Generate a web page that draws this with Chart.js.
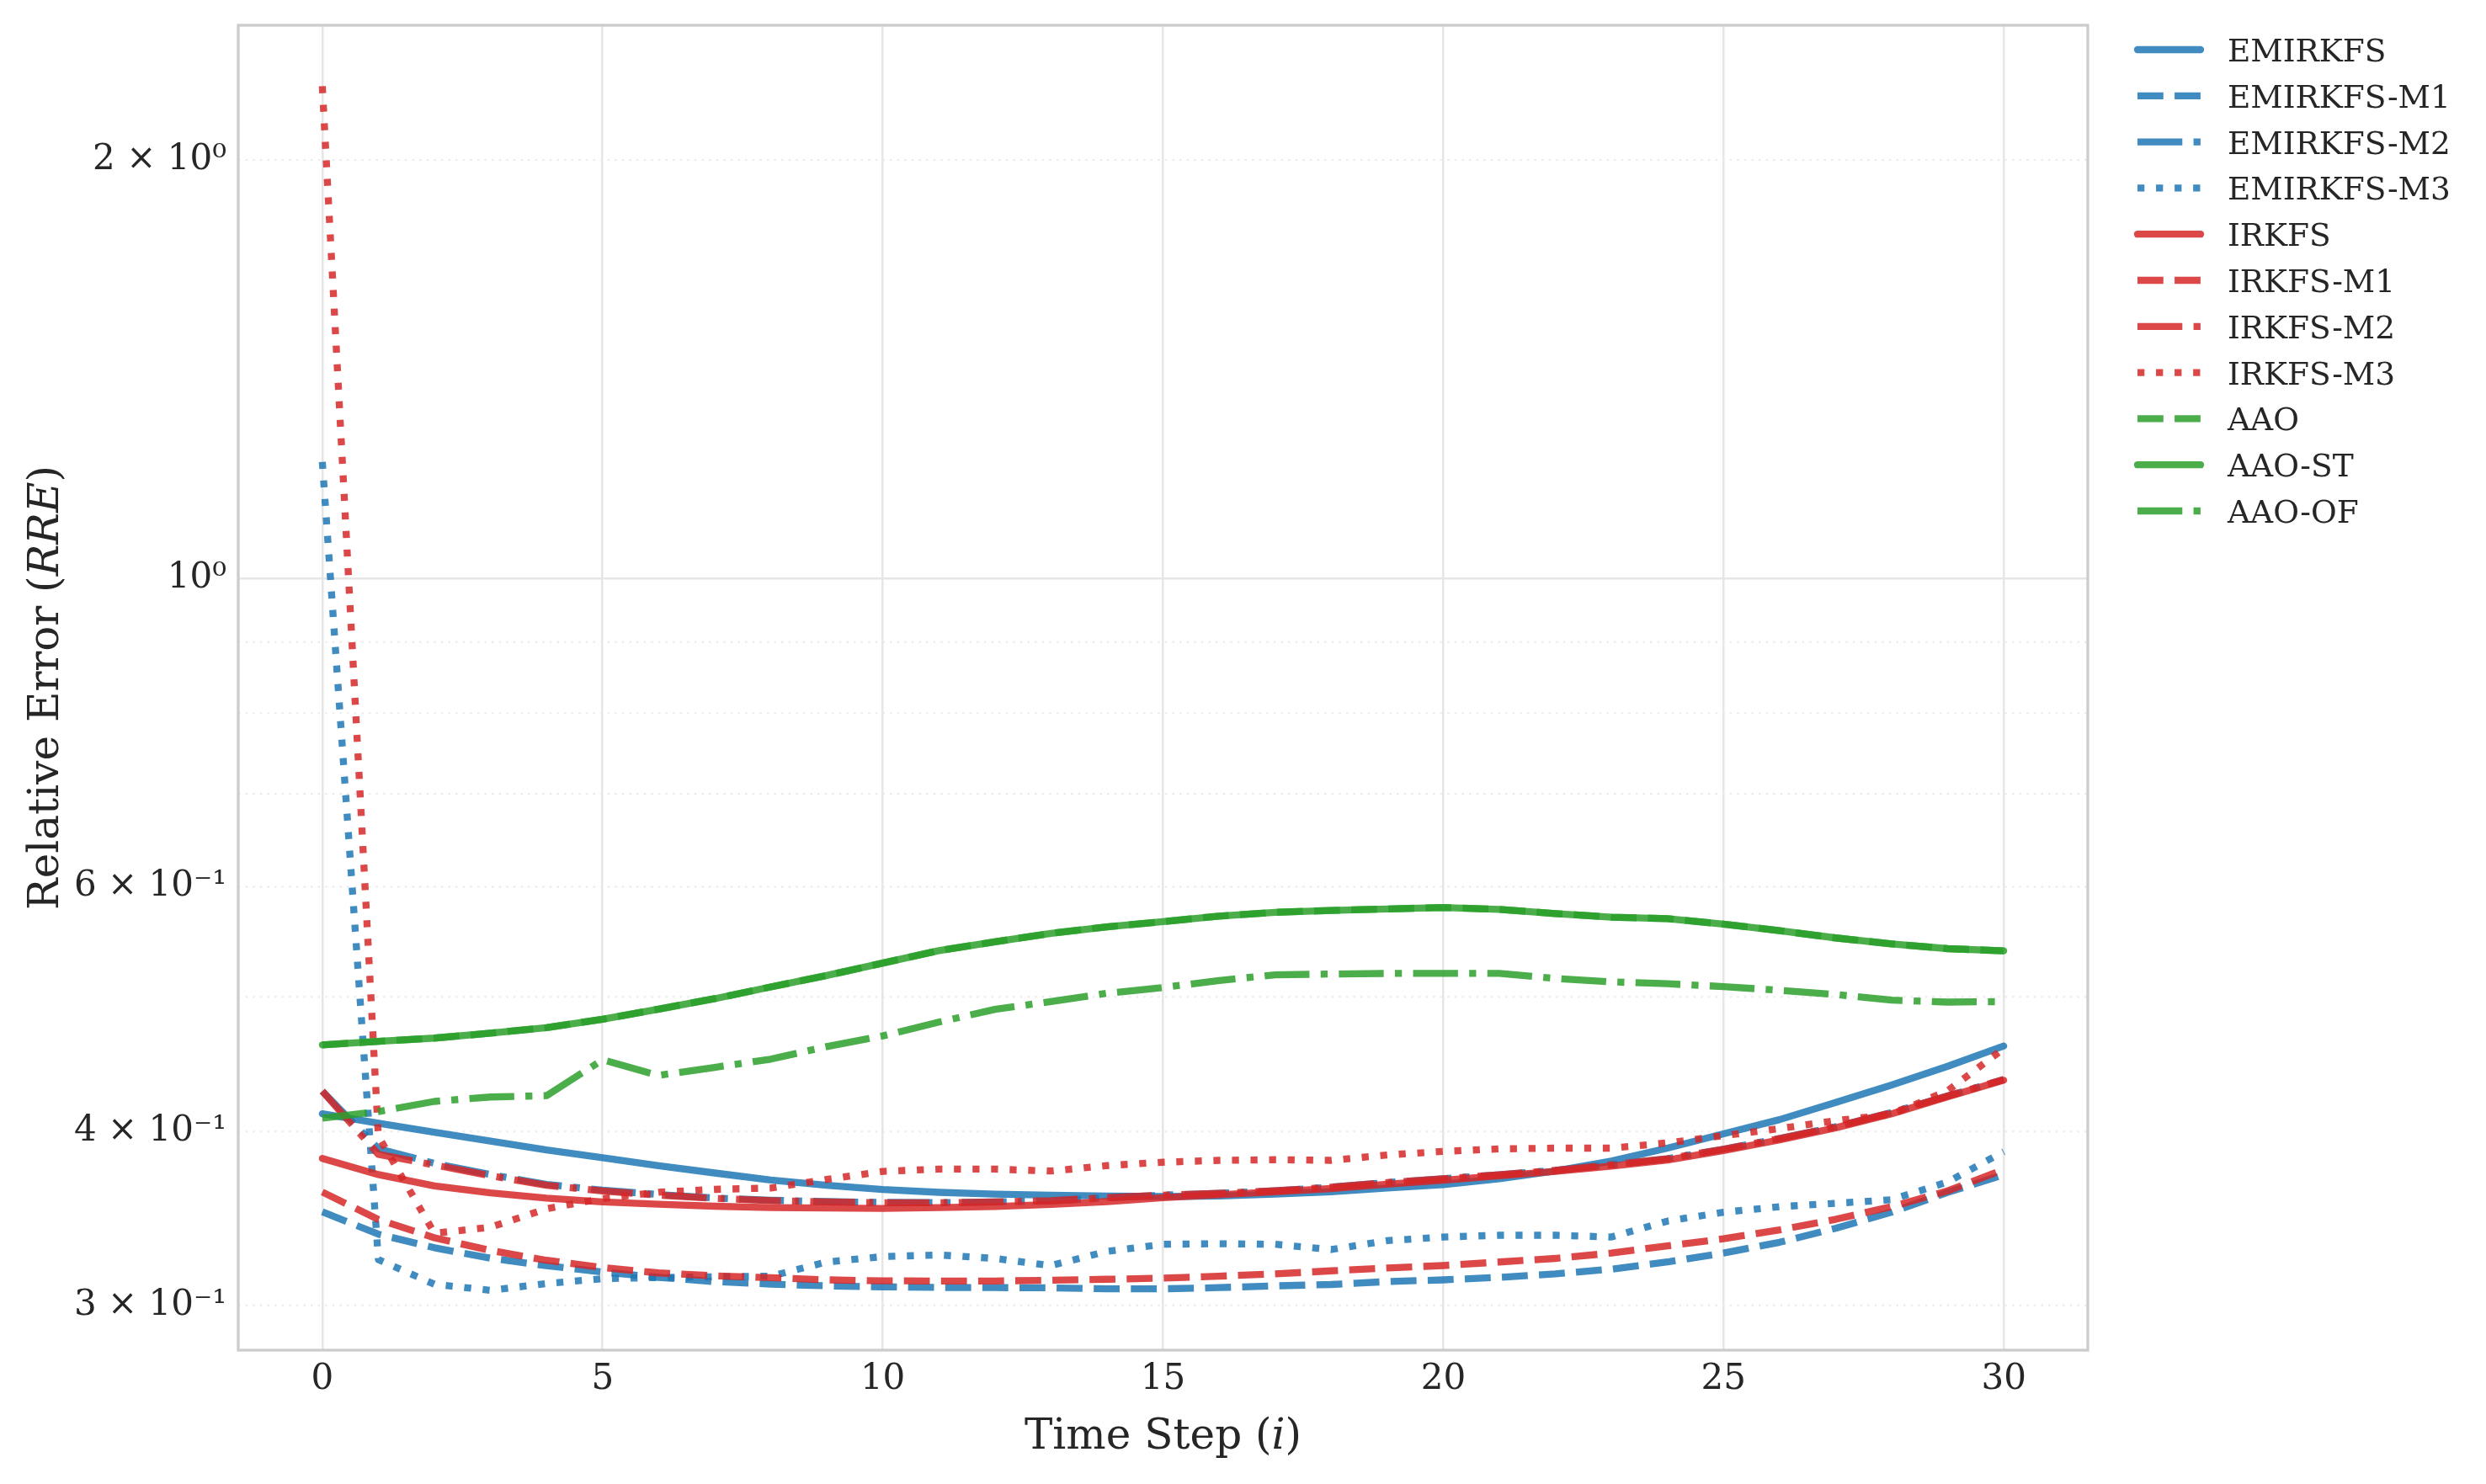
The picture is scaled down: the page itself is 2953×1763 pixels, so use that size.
<!DOCTYPE html>
<html>
<head>
<meta charset="utf-8">
<script src="https://cdn.jsdelivr.net/npm/chart.js@4.4.1/dist/chart.umd.min.js"></script>
<style>
  html, body { margin: 0; padding: 0; background: #fff; }
  #wrap { width: 2953px; height: 1763px; position: relative; }
</style>
</head>
<body>
<div id="wrap"><canvas id="c"></canvas></div>
<script>
// time steps
const steps = [0, 1, 2, 3, 4, 5, 6, 7, 8, 9, 10, 11, 12, 13, 14, 15, 16, 17, 18, 19, 20, 21, 22, 23, 24, 25, 26, 27, 28, 29, 30];

// relative error values
const emirkfs   = [0.412, 0.4056, 0.3996, 0.3938, 0.388, 0.3831, 0.378, 0.3735, 0.3692, 0.366, 0.3634, 0.3617, 0.3606, 0.36, 0.3595, 0.3592, 0.3595, 0.3606, 0.3621, 0.3643, 0.3664, 0.3699, 0.3747, 0.3809, 0.3892, 0.3985, 0.408, 0.4198, 0.4321, 0.4457, 0.4609];
const emirkfsM1 = [0.3502, 0.3375, 0.33, 0.3243, 0.3203, 0.317, 0.3142, 0.312, 0.3107, 0.3098, 0.3093, 0.309, 0.3089, 0.3088, 0.3083, 0.3083, 0.3089, 0.3098, 0.3105, 0.312, 0.3129, 0.3142, 0.316, 0.3185, 0.3223, 0.3271, 0.333, 0.3408, 0.35, 0.3617, 0.3724];
const emirkfsM2 = [0.4277, 0.3888, 0.3795, 0.3725, 0.3665, 0.363, 0.3604, 0.3583, 0.357, 0.3562, 0.3557, 0.3556, 0.356, 0.3567, 0.3585, 0.36, 0.3611, 0.3626, 0.3648, 0.3676, 0.3699, 0.3724, 0.3751, 0.3786, 0.3824, 0.3885, 0.3954, 0.4032, 0.4128, 0.4243, 0.436];
const emirkfsM3 = [1.213, 0.3236, 0.3106, 0.3075, 0.311, 0.3135, 0.3141, 0.3145, 0.3148, 0.3223, 0.3252, 0.3261, 0.3242, 0.3204, 0.328, 0.3319, 0.3322, 0.3319, 0.329, 0.3339, 0.3359, 0.3369, 0.3369, 0.3359, 0.3449, 0.35, 0.3532, 0.3552, 0.3573, 0.368, 0.3869];
const irkfs     = [0.3826, 0.3725, 0.3656, 0.3614, 0.3583, 0.356, 0.3547, 0.3535, 0.3527, 0.3524, 0.3522, 0.3527, 0.3533, 0.3545, 0.3562, 0.3585, 0.3603, 0.362, 0.364, 0.3666, 0.369, 0.3717, 0.3745, 0.3778, 0.3816, 0.3876, 0.3945, 0.4025, 0.412, 0.4237, 0.4355];
const irkfsM1   = [0.3619, 0.3458, 0.3355, 0.3285, 0.3232, 0.3194, 0.3165, 0.315, 0.314, 0.3129, 0.3124, 0.3123, 0.3123, 0.3127, 0.3132, 0.3138, 0.3148, 0.316, 0.3176, 0.3191, 0.3204, 0.3223, 0.3242, 0.3271, 0.331, 0.3349, 0.3399, 0.3459, 0.3532, 0.3626, 0.3757];
const irkfsM2   = [0.4277, 0.3852, 0.3785, 0.3718, 0.366, 0.3625, 0.36, 0.3581, 0.3568, 0.356, 0.3555, 0.3555, 0.356, 0.3567, 0.3585, 0.36, 0.3611, 0.3626, 0.3648, 0.3676, 0.3699, 0.3724, 0.3751, 0.3786, 0.3824, 0.3885, 0.3954, 0.4032, 0.4128, 0.4243, 0.436];
const irkfsM3   = [2.26, 0.397, 0.338, 0.3414, 0.352, 0.358, 0.3618, 0.3635, 0.3643, 0.3695, 0.3745, 0.3759, 0.3759, 0.3747, 0.3781, 0.3802, 0.3814, 0.3818, 0.3814, 0.3848, 0.3871, 0.3887, 0.3892, 0.3892, 0.3926, 0.3973, 0.402, 0.4073, 0.4116, 0.428, 0.459];
const aao       = [0.4618, 0.4645, 0.467, 0.4708, 0.4752, 0.4818, 0.49, 0.4985, 0.5083, 0.518, 0.5288, 0.5398, 0.5478, 0.5555, 0.5615, 0.5664, 0.5716, 0.5752, 0.577, 0.5784, 0.5798, 0.578, 0.574, 0.5706, 0.5692, 0.564, 0.558, 0.5513, 0.5459, 0.5416, 0.5396];
const aaoST     = [0.4618, 0.4645, 0.467, 0.4708, 0.4752, 0.4818, 0.49, 0.4985, 0.5083, 0.518, 0.5288, 0.5398, 0.5478, 0.5555, 0.5615, 0.5664, 0.5716, 0.5752, 0.577, 0.5784, 0.5798, 0.578, 0.574, 0.5706, 0.5692, 0.564, 0.558, 0.5513, 0.5459, 0.5416, 0.5396];
const aaoOF     = [0.409, 0.4135, 0.4205, 0.4236, 0.4245, 0.4505, 0.439, 0.4449, 0.451, 0.4605, 0.4687, 0.4795, 0.4898, 0.4961, 0.503, 0.5078, 0.5138, 0.5186, 0.5193, 0.5198, 0.5198, 0.5198, 0.5155, 0.5126, 0.511, 0.5086, 0.5055, 0.502, 0.4973, 0.4957, 0.4961];

// axis ticks
const xTicks = [0, 5, 10, 15, 20, 25, 30];
const yTickValues = [0.3, 0.4, 0.6, 1, 2];
const yTickLabels = ['3 × 10⁻¹', '4 × 10⁻¹', '6 × 10⁻¹', '10⁰', '2 × 10⁰'];
const yMinorGrid = [0.3, 0.4, 0.5, 0.6, 0.7, 0.8, 0.9, 2];

// styles
const BLUE = 'rgba(31,119,180,0.85)';
const RED = 'rgba(214,39,40,0.85)';
const GREEN = 'rgba(44,160,44,0.85)';
const LW = 8.33;
const SOLID = [];
const DASHED = [30.8, 13.3];
const DASHDOT = [53.3, 13.3, 8.3, 13.3];
const DOTTED = [8.3, 13.75];
const FONT = '"DejaVu Serif", serif';
const TEXT = '#262626';

const series = [
    {label: 'EMIRKFS', data: emirkfs, color: BLUE, dash: SOLID},
    {label: 'EMIRKFS-M1', data: emirkfsM1, color: BLUE, dash: DASHED},
    {label: 'EMIRKFS-M2', data: emirkfsM2, color: BLUE, dash: DASHDOT},
    {label: 'EMIRKFS-M3', data: emirkfsM3, color: BLUE, dash: DOTTED},
    {label: 'IRKFS', data: irkfs, color: RED, dash: SOLID},
    {label: 'IRKFS-M1', data: irkfsM1, color: RED, dash: DASHED},
    {label: 'IRKFS-M2', data: irkfsM2, color: RED, dash: DASHDOT},
    {label: 'IRKFS-M3', data: irkfsM3, color: RED, dash: DOTTED},
    {label: 'AAO', data: aao, color: GREEN, dash: DASHED},
    {label: 'AAO-ST', data: aaoST, color: GREEN, dash: SOLID},
    {label: 'AAO-OF', data: aaoOF, color: GREEN, dash: DASHDOT}
];

const datasets = series.map(function (s, i) {
    return {
        label: s.label,
        data: steps.map(function (x, k) { return {x: x, y: s.data[k]}; }),
        borderColor: s.color,
        backgroundColor: s.color,
        borderWidth: LW,
        borderDash: s.dash,
        borderCapStyle: s.dash.length ? 'butt' : 'round',
        borderJoinStyle: 'round',
        pointRadius: 0,
        tension: 0,
        fill: false,
        order: series.length - 1 - i   // later series on top, like matplotlib
    };
});

// helper: text made of several font parts, centred on x
function drawParts(ctx, parts, x, y) {
    let total = 0;
    parts.forEach(function (p) { ctx.font = p.font; p.w = ctx.measureText(p.text).width; total += p.w; });
    let cx = x - total / 2;
    parts.forEach(function (p) { ctx.font = p.font; ctx.fillText(p.text, cx, y); cx += p.w; });
}

const decor = {
    id: 'decor',
    beforeDatasetsDraw: function (chart) {
        // dotted minor grid lines
        const ctx = chart.ctx, a = chart.chartArea, y = chart.scales.y;
        ctx.save();
        ctx.strokeStyle = '#ebebeb';
        ctx.lineWidth = 2;
        ctx.setLineDash([2.6, 6]);
        yMinorGrid.forEach(function (v) {
            const py = y.getPixelForValue(v);
            ctx.beginPath();
            ctx.moveTo(a.left, py);
            ctx.lineTo(a.right, py);
            ctx.stroke();
        });
        ctx.restore();
    },
    afterDatasetsDraw: function (chart) {
        // axes frame
        const ctx = chart.ctx, a = chart.chartArea;
        ctx.save();
        ctx.strokeStyle = '#cccccc';
        ctx.lineWidth = 3.3;
        ctx.strokeRect(a.left, a.top, a.right - a.left, a.bottom - a.top);
        ctx.restore();
    },
    afterDraw: function (chart) {
        const ctx = chart.ctx, a = chart.chartArea;
        ctx.save();
        ctx.fillStyle = TEXT;
        ctx.textBaseline = 'alphabetic';
        ctx.textAlign = 'left';

        // axis titles
        const norm = '50px ' + FONT, ital = 'italic 50px ' + FONT;
        drawParts(ctx, [{text: 'Time Step (', font: norm}, {text: 'i', font: ital}, {text: ')', font: norm}],
            (a.left + a.right) / 2, 1721);
        ctx.save();
        ctx.translate(69, (a.top + a.bottom) / 2);
        ctx.rotate(-Math.PI / 2);
        drawParts(ctx, [{text: 'Relative Error (', font: norm}, {text: 'RRE', font: ital}, {text: ')', font: norm}], 0, 0);
        ctx.restore();

        // legend
        chart.data.datasets.forEach(function (ds, i) {
            const ry = 59 + i * 54.8;
            ctx.save();
            ctx.strokeStyle = ds.borderColor;
            ctx.lineWidth = ds.borderWidth;
            ctx.setLineDash(ds.borderDash);
            ctx.lineCap = ds.borderCapStyle;
            ctx.beginPath();
            ctx.moveTo(2539, ry);
            ctx.lineTo(2614, ry);
            ctx.stroke();
            ctx.restore();
            ctx.font = '37.5px ' + FONT;
            ctx.fillText(ds.label, 2646, ry + 14);
        });
        ctx.restore();
    }
};

new Chart(document.getElementById('c').getContext('2d'), {
    type: 'line',
    data: {datasets: datasets},
    plugins: [decor],
    options: {
        responsive: true,
        maintainAspectRatio: false,
        devicePixelRatio: 1,
        animation: false,
        layout: {padding: {top: 30, right: 473, left: 0, bottom: 0}},
        plugins: {legend: {display: false}, tooltip: {enabled: false}},
        scales: {
            x: {
                type: 'linear',
                min: -1.5,
                max: 31.5,
                afterBuildTicks: function (scale) { scale.ticks = xTicks.map(function (v) { return {value: v}; }); },
                afterFit: function (scale) {
                    scale.height = 159;
                    scale.paddingLeft = 0;
                    scale.paddingRight = 0;
                },
                ticks: {
                    autoSkip: false,
                    maxRotation: 0,
                    padding: 10,
                    color: TEXT,
                    font: {family: FONT, size: 42}
                },
                grid: {color: '#e6e6e6', lineWidth: 2.5, drawTicks: false},
                border: {display: false}
            },
            y: {
                type: 'logarithmic',
                min: 0.2785,
                max: 2.5,
                afterBuildTicks: function (scale) { scale.ticks = yTickValues.map(function (v) { return {value: v}; }); },
                afterFit: function (scale) {
                    scale.width = 283;
                    scale.paddingTop = 0;
                    scale.paddingBottom = 0;
                },
                ticks: {
                    autoSkip: false,
                    padding: 14,
                    color: TEXT,
                    font: {family: FONT, size: 42},
                    callback: function (value) {
                        const k = yTickValues.indexOf(value);
                        return k >= 0 ? yTickLabels[k] : '';
                    }
                },
                grid: {
                    color: function (c) { return c.tick && c.tick.value === 1 ? '#e6e6e6' : 'rgba(0,0,0,0)'; },
                    lineWidth: 2.5,
                    drawTicks: false
                },
                border: {display: false}
            }
        }
    }
});
</script>
</body>
</html>
